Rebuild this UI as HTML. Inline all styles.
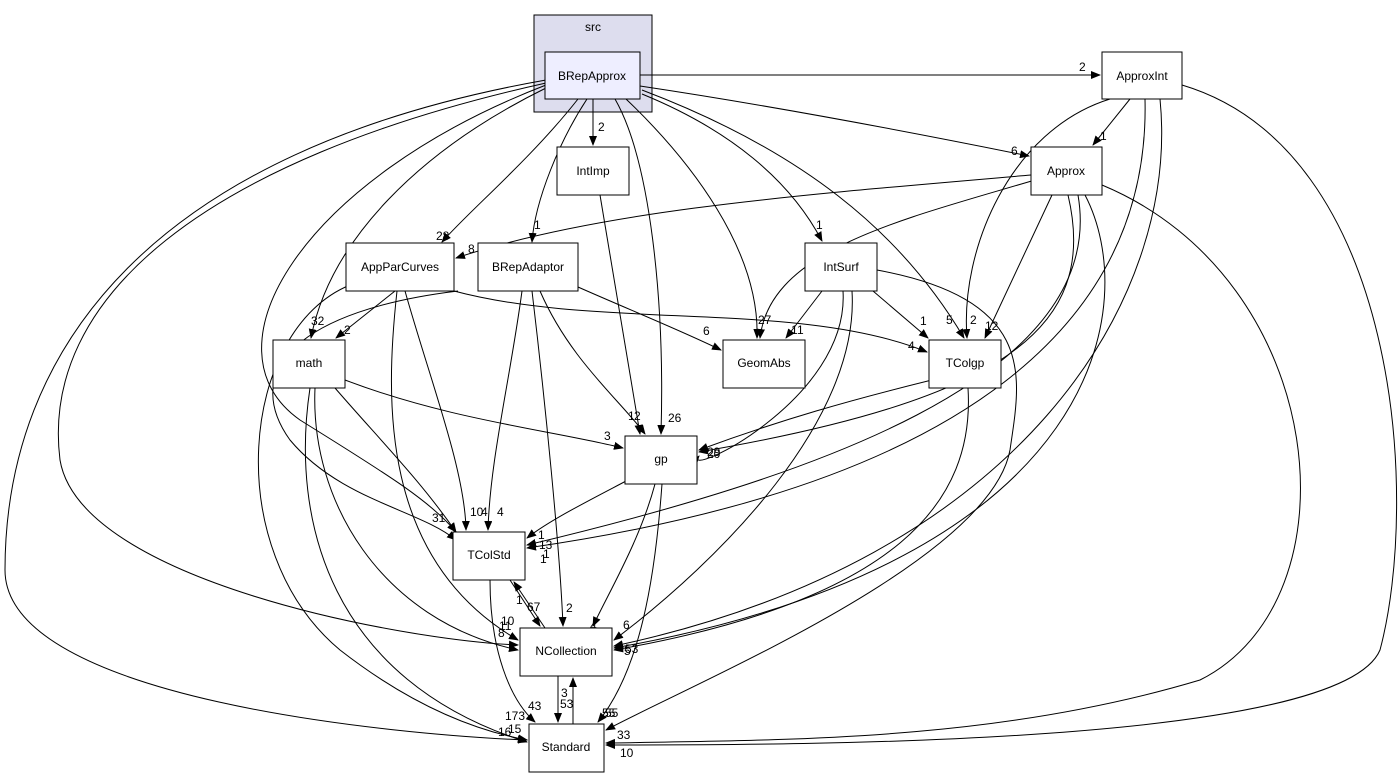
<!DOCTYPE html>
<html><head><meta charset="utf-8"><style>
html,body{margin:0;padding:0;background:#fff;}
svg{display:block;font-family:"Liberation Sans",sans-serif;}
.n{fill:#fff;stroke:#000;stroke-width:1}
.t{font-size:12px;text-anchor:middle;fill:#000}
.l{font-size:12px;fill:#000}
.e{fill:none;stroke:#000;stroke-width:1}
</style></head><body>
<svg width="1399" height="777" viewBox="0 0 1399 777">
<defs><marker id="a" markerWidth="10" markerHeight="8" refX="9" refY="4" orient="auto" markerUnits="userSpaceOnUse"><path d="M0,0 L10,4 L0,8 z" fill="#000"/></marker></defs>
<rect x="534" y="15" width="118" height="97" fill="#ddddee" stroke="#000"/>
<text class="t" x="593" y="31" font-size="11">src</text>

<!-- edges -->
<g class="e" marker-end="url(#a)">
<path d="M640,75 L1100,75"/>
<path d="M593,99 L593,145"/>
<path d="M640,86 C800,110 950,140 1029,156"/>
<path d="M578,99 C530,160 470,210 442,242"/>
<path d="M587,99 C560,140 535,200 532,242"/>
<path d="M615,99 C650,160 665,300 661,434"/>
<path d="M626,99 C690,160 760,250 757,338"/>
<path d="M642,94 C730,130 790,180 822,241"/>
<path d="M642,90 C800,150 900,230 964,338"/>
<path d="M546,88 C420,150 330,240 311,338"/>
<path d="M546,85 C300,180 200,350 300,420 C380,470 430,500 456,532"/>
<path d="M546,83 C200,160 40,300 60,460 C80,580 400,640 518,645"/>
<path d="M546,80 C150,150 5,350 5,570 C5,700 400,735 527,740"/>
<path d="M1110,99 C1010,130 960,250 967,338"/>
<path d="M1130,99 L1093,145"/>
<path d="M1145,99 C1150,300 1000,480 527,548"/>
<path d="M1160,99 C1180,300 1020,560 614,646"/>
<path d="M1182,85 C1400,150 1420,500 1380,650 C1340,745 800,745 606,745"/>
<path d="M1031,175 C800,195 600,210 456,258"/>
<path d="M1035,180 C900,220 770,250 760,338"/>
<path d="M1052,195 L985,338"/>
<path d="M1068,195 C1100,330 1000,400 699,452"/>
<path d="M1078,195 C1110,380 800,480 527,545"/>
<path d="M1085,195 C1140,300 1110,560 614,648"/>
<path d="M1102,185 C1330,280 1360,600 1200,680 C1000,740 800,740 606,743"/>
<path d="M600,195 L640,434"/>
<path d="M395,291 L336,338"/>
<path d="M454,291 C600,330 800,300 927,352"/>
<path d="M405,291 C430,380 465,470 466,530"/>
<path d="M397,291 C385,400 380,560 518,640"/>
<path d="M350,285 C240,330 220,550 340,650 C430,720 500,735 527,740"/>
<path d="M458,291 C300,310 240,370 290,440 C340,500 420,510 456,540"/>
<path d="M540,291 C570,360 620,400 645,434"/>
<path d="M522,291 C510,380 490,460 488,530"/>
<path d="M532,291 C545,400 560,550 563,626"/>
<path d="M578,287 C630,310 680,330 721,350"/>
<path d="M822,291 L786,338"/>
<path d="M873,291 L928,338"/>
<path d="M843,291 C850,400 680,480 699,456"/>
<path d="M852,291 C860,420 720,560 614,640"/>
<path d="M877,270 C1040,300 1020,380 1010,450 C990,560 700,680 606,730"/>
<path d="M345,380 C450,420 550,430 623,448"/>
<path d="M335,388 C380,440 420,480 456,532"/>
<path d="M315,388 C310,500 380,620 518,650"/>
<path d="M310,388 C290,520 330,680 527,742"/>
<path d="M940,378 C850,400 780,420 699,450"/>
<path d="M968,388 C975,500 900,600 614,650"/>
<path d="M628,480 C590,500 550,520 527,538"/>
<path d="M655,484 C640,540 610,590 593,626"/>
<path d="M662,484 C655,580 640,670 598,722"/>
<path d="M510,580 L540,626"/>
<path d="M545,628 L514,582"/>
<path d="M490,580 C490,650 510,700 535,722"/>
<path d="M558,676 L558,722"/>
<path d="M573,724 L573,678"/>
</g>

<!-- labels -->
<g class="l">
<text x="1079" y="71">2</text><text x="598" y="131">2</text><text x="1011" y="155">6</text>
<text x="436" y="240">28</text><text x="534" y="229">1</text><text x="668" y="422">26</text>
<text x="758" y="324">27</text><text x="816" y="229">1</text><text x="946" y="324">5</text>
<text x="311" y="325">32</text><text x="432" y="522">31</text><text x="501" y="625">10</text>
<text x="498" y="736">16</text><text x="970" y="324">2</text><text x="1100" y="140">1</text>
<text x="539" y="549">13</text><text x="625" y="653">53</text><text x="617" y="739">33</text>
<text x="468" y="253">8</text><text x="791" y="334">1</text><text x="985" y="330">12</text>
<text x="707" y="458">20</text><text x="538" y="539">1</text><text x="624" y="655">5</text><text x="620" y="757">10</text>
<text x="628" y="420">1</text><text x="344" y="334">2</text><text x="908" y="350">4</text>
<text x="481" y="516">4</text><text x="498" y="637">8</text><text x="505" y="720">173</text>
<text x="470" y="516">10</text><text x="634" y="420">2</text><text x="497" y="516">4</text>
<text x="566" y="612">2</text><text x="703" y="335">6</text><text x="797" y="334">1</text>
<text x="920" y="325">1</text><text x="707" y="456">29</text><text x="623" y="629">6</text>
<text x="605" y="717">55</text><text x="604" y="440">3</text><text x="540" y="563">1</text>
<text x="499" y="630">11</text><text x="508" y="733">15</text><text x="543" y="558">1</text>
<text x="590" y="630">4</text><text x="602" y="717">55</text><text x="516" y="604">1</text>
<text x="527" y="611">67</text><text x="528" y="710">43</text><text x="560" y="708">53</text>
<text x="561" y="697">3</text>
</g>

<!-- nodes -->
<rect x="545" y="52" width="95" height="47" fill="#eeeeff" stroke="#000"/><text class="t" x="592" y="80">BRepApprox</text>
<rect class="n" x="1102" y="52" width="80" height="47"/><text class="t" x="1142" y="80">ApproxInt</text>
<rect class="n" x="557" y="147" width="72" height="48"/><text class="t" x="593" y="175">IntImp</text>
<rect class="n" x="1031" y="147" width="71" height="48"/><text class="t" x="1066" y="175">Approx</text>
<rect class="n" x="346" y="243" width="108" height="48"/><text class="t" x="400" y="271">AppParCurves</text>
<rect class="n" x="478" y="243" width="100" height="48"/><text class="t" x="528" y="271">BRepAdaptor</text>
<rect class="n" x="805" y="243" width="72" height="48"/><text class="t" x="841" y="271">IntSurf</text>
<rect class="n" x="273" y="340" width="72" height="48"/><text class="t" x="309" y="367">math</text>
<rect class="n" x="723" y="340" width="82" height="48"/><text class="t" x="764" y="367">GeomAbs</text>
<rect class="n" x="929" y="340" width="72" height="48"/><text class="t" x="965" y="367">TColgp</text>
<rect class="n" x="625" y="436" width="72" height="48"/><text class="t" x="661" y="463">gp</text>
<rect class="n" x="453" y="532" width="72" height="48"/><text class="t" x="489" y="559">TColStd</text>
<rect class="n" x="520" y="628" width="92" height="48"/><text class="t" x="566" y="655">NCollection</text>
<rect class="n" x="529" y="724" width="75" height="48"/><text class="t" x="566" y="751">Standard</text>
</svg>
</body></html>
